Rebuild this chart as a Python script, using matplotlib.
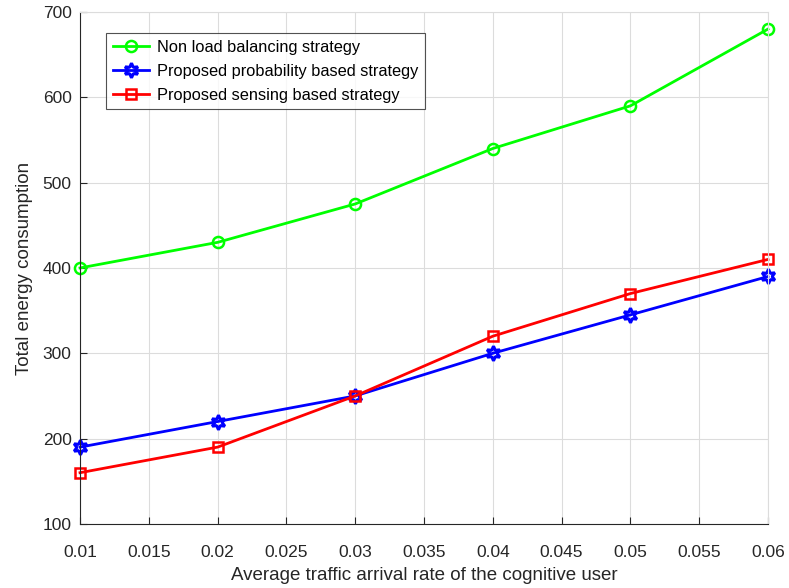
import matplotlib
matplotlib.use("Agg")
import matplotlib.pyplot as plt

plt.rcParams['font.family'] = ['Liberation Sans', 'DejaVu Sans']

arrival_rate = [0.01, 0.02, 0.03, 0.04, 0.05, 0.06]
non_load_balancing = [400, 430, 475, 540, 590, 680]
probability_based = [190, 220, 250, 300, 345, 390]
sensing_based = [160, 190, 250, 320, 370, 410]

x_ticks = [0.01, 0.015, 0.02, 0.025, 0.03, 0.035, 0.04, 0.045, 0.05, 0.055, 0.06]
x_tick_labels = ['0.01', '0.015', '0.02', '0.025', '0.03', '0.035', '0.04',
                 '0.045', '0.05', '0.055', '0.06']
y_ticks = [100, 200, 300, 400, 500, 600, 700]

fig = plt.figure(figsize=(7.89, 5.88), dpi=100)
ax = fig.add_axes([0.1014, 0.109, 0.8720, 0.8706])

ax.plot(arrival_rate, non_load_balancing, color='#00ff00', lw=2, marker='o',
        ms=8, mfc='none', mew=1.8, label='Non load balancing strategy', clip_on=False)
ax.plot(arrival_rate, probability_based, color='#0000ff', lw=2, marker=(6, 1, 0),
        ms=10.5, mfc='none', mew=2.2, label='Proposed probability based strategy', clip_on=False)
ax.plot(arrival_rate, sensing_based, color='#ff0000', lw=2, marker='s',
        ms=7, mfc='none', mew=1.8, label='Proposed sensing based strategy', clip_on=False)

ax.set_xlim(0.01, 0.06)
ax.set_ylim(100, 700)
ax.set_xticks(x_ticks)
ax.set_xticklabels(x_tick_labels)
ax.set_yticks(y_ticks)
ax.grid(True, color='#dcdcdc', lw=0.8)
ax.set_axisbelow(True)
ax.tick_params(direction='in', length=5, width=0.8, colors='#262626', labelsize=12.5)
ax.tick_params(axis='x', pad=15)
ax.tick_params(axis='y', pad=6)
for side in ['left', 'bottom']:
    ax.spines[side].set_color('#262626')
    ax.spines[side].set_linewidth(0.8)
for side in ['top', 'right']:
    ax.spines[side].set_color('#dcdcdc')
    ax.spines[side].set_linewidth(0.8)

ax.set_xlabel('Average traffic arrival rate of the cognitive user', fontsize=13.5, color='#262626', labelpad=5)
ax.set_ylabel('Total energy consumption', fontsize=13.5, color='#262626', labelpad=7)

leg = ax.legend(loc='upper left', bbox_to_anchor=(0.038, 0.959), fontsize=11.8, frameon=True,
                fancybox=False, edgecolor='#262626', borderpad=0.4, labelspacing=0.55,
                handlelength=2.2, handletextpad=0.5, borderaxespad=0)
leg.get_frame().set_linewidth(0.8)

fig.savefig('out.png', dpi=100)
